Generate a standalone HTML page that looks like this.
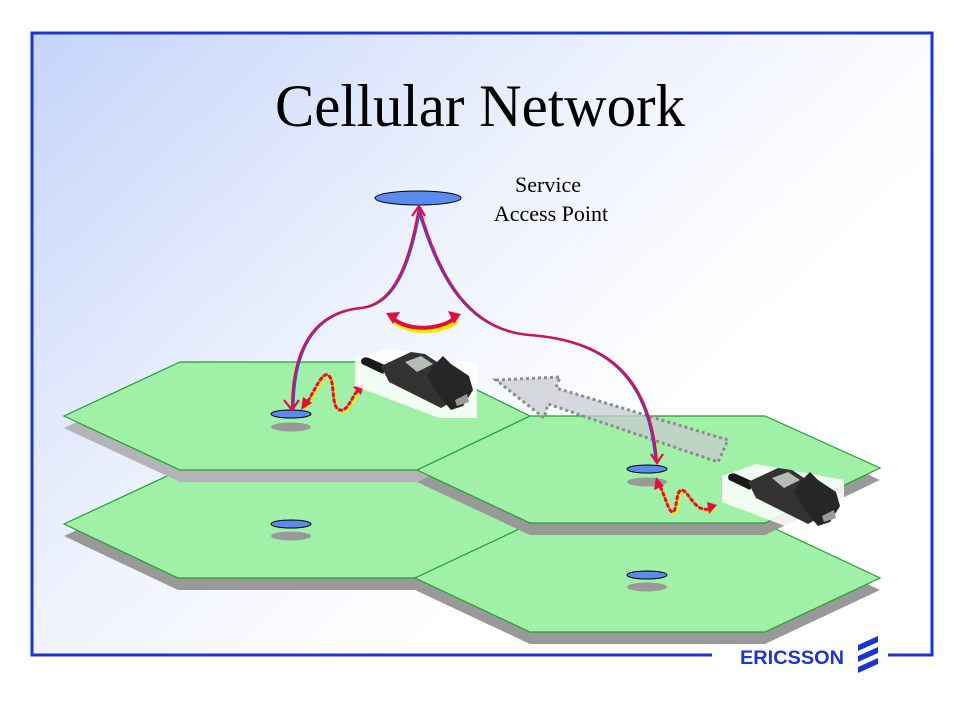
<!DOCTYPE html>
<html><head><meta charset="utf-8"><style>
html,body{margin:0;padding:0;width:960px;height:720px;overflow:hidden;background:#fff}
</style></head><body>
<svg width="960" height="720" viewBox="0 0 960 720" xmlns="http://www.w3.org/2000/svg">
<defs>
<linearGradient id="bg" x1="0" y1="0" x2="0.75" y2="0.55">
<stop offset="0" stop-color="#c4d4fa"/><stop offset="0.6" stop-color="#eef2fd"/><stop offset="1" stop-color="#ffffff"/>
</linearGradient>
<g id="phone">
<polygon points="-4,4 30,-8 118,8 118,62 80,62 -4,30" fill="#fff" opacity="0.85"/>
<path d="M3,8 C0,3 5,0 10,2 L28,10 L24,18 Z" fill="#1a1a1a"/>
<path d="M22,10 L52,-4 L66,-2 L84,10 L100,30 L96,44 L82,52 L30,26 Z" fill="#333"/>
<path d="M46,6 L62,0 L74,8 L58,16 Z" fill="#b4bcb4"/>
<path d="M70,22 L86,12 L92,24 L76,32 Z" fill="#222"/>
<path d="M74,10 L84,0 L92,8 L110,20 L114,34 L104,50 L92,54 L80,40 L68,20 Z" fill="#262626"/>
<path d="M96,44 L108,38 L110,46 L98,50 Z" fill="#9a9a9a"/>
</g>
</defs>
<rect x="32" y="33" width="900" height="622" fill="url(#bg)"/>
<rect x="32" y="33" width="900" height="622" fill="none" stroke="#1c35d0" stroke-width="3"/>
<rect x="712" y="650" width="176" height="10" fill="#fff"/>
<text x="480" y="126" text-anchor="middle" font-family="Liberation Serif, serif" font-size="60" textLength="410" lengthAdjust="spacingAndGlyphs">Cellular Network</text>
<text x="548" y="192" text-anchor="middle" font-family="Liberation Serif, serif" font-size="22">Service</text>
<text x="551" y="221" text-anchor="middle" font-family="Liberation Serif, serif" font-size="22">Access Point</text>

<polygon points="64,536 180,483 420,483 530,536 415,590 178,590" fill="#999"/>
<polygon points="415,590 530,536 765,536 880,590 765,644 530,644" fill="#999"/>
<polygon points="64,524 180,470 420,470 530,524 415,578 178,578" fill="#a0f0a8" stroke="#22a030" stroke-width="1.2"/>
<polygon points="415,578 530,524 765,524 880,578 765,632 530,632" fill="#a0f0a8" stroke="#22a030" stroke-width="1.2"/>
<polygon points="64,428 180,374 420,374 530,428 417,482 180,482" fill="#b4b4b8"/>
<polygon points="417,482 530,428 765,428 880,480 765,535 530,535" fill="#999"/>
<polygon points="417,470 530,416 765,416 880,468 765,523 530,523" fill="#a0f0a8" stroke="#22a030" stroke-width="1.2"/>
<polygon points="64,416 180,362 420,362 530,416 417,470 180,470" fill="#a0f0a8" stroke="#22a030" stroke-width="1.2"/>

<polygon points="496,380 560,377 556,388 728,440 718,462 548,404 544,418" fill="#c8ccd0" fill-opacity="0.75" stroke="#8c8c8c" stroke-width="3" stroke-dasharray="3,3"/>

<ellipse cx="291" cy="427" rx="20" ry="4.5" fill="#999"/>
<ellipse cx="291" cy="414" rx="20" ry="4" fill="#5a8cf0" stroke="#000" stroke-width="1"/>
<ellipse cx="647" cy="482" rx="20" ry="4.5" fill="#999"/>
<ellipse cx="647" cy="469" rx="20" ry="4" fill="#5a8cf0" stroke="#000" stroke-width="1"/>
<ellipse cx="291" cy="536" rx="20" ry="4.5" fill="#999"/>
<ellipse cx="291" cy="524" rx="20" ry="4" fill="#5a8cf0" stroke="#000" stroke-width="1"/>
<ellipse cx="647" cy="587" rx="20" ry="4.5" fill="#999"/>
<ellipse cx="647" cy="575" rx="20" ry="4" fill="#5a8cf0" stroke="#000" stroke-width="1"/>
<ellipse cx="418" cy="198" rx="43" ry="7" fill="#5a8cf0" stroke="#000" stroke-width="1"/>

<g fill="none" stroke-width="2.2">
<path d="M419,207 C410,260 395,305 360,308 C320,312 292,340 292,410" stroke="#3050f0" transform="translate(1.5,0)"/>
<path d="M419,207 C410,260 395,305 360,308 C320,312 292,340 292,410" stroke="#e0103c"/>
<path d="M419,207 C440,280 470,330 530,335 C600,340 650,370 657,462" stroke="#3050f0" transform="translate(-1.5,0)"/>
<path d="M419,207 C440,280 470,330 530,335 C600,340 650,370 657,462" stroke="#e0103c"/>
</g>
<g fill="none" stroke="#e0103c" stroke-width="2.2">
<path d="M284,400 L292,410 L299,400"/><path d="M412,216 L419,206 L425,216"/>
<path d="M651,454 L657,463 L663,454"/>
</g>
<path d="M392,318 C410,332 440,330 455,318" fill="none" stroke="#ffe800" stroke-width="5" transform="translate(2,3)"/>
<path d="M392,318 C410,332 440,330 455,318" fill="none" stroke="#e0103c" stroke-width="4"/>
<polygon points="386,313 400,312 393,324" fill="#e0103c"/>
<polygon points="461,314 448,311 454,324" fill="#e0103c"/>

<g fill="none" stroke-width="3" stroke-dasharray="2.5,3.5" stroke-linecap="round">
<path d="M305,406 C315,390 322,372 328,375 C336,380 330,408 340,410 C348,412 352,395 360,388" stroke="#ffe800" transform="translate(1.5,1.5)"/>
<path d="M305,406 C315,390 322,372 328,375 C336,380 330,408 340,410 C348,412 352,395 360,388" stroke="#e0103c"/>
<path d="M658,482 C665,495 668,510 672,512 C678,512 675,490 682,490 C690,492 695,515 712,508" stroke="#ffe800" transform="translate(1.5,1.5)"/>
<path d="M658,482 C665,495 668,510 672,512 C678,512 675,490 682,490 C690,492 695,515 712,508" stroke="#e0103c"/>
</g>
<polygon points="301,410 303,397 312,403" fill="#e0103c"/>
<polygon points="364,384 353,387 361,395" fill="#e0103c"/>
<polygon points="656,477 654,490 664,486" fill="#e0103c"/>
<polygon points="717,505 707,502 709,514" fill="#e0103c"/>

<use href="#phone" transform="translate(359,356)"/>
<use href="#phone" transform="translate(726,472)"/>

<text x="740" y="664" font-family="Liberation Sans, sans-serif" font-weight="bold" font-size="19" fill="#1c35d0" textLength="104" lengthAdjust="spacingAndGlyphs">ERICSSON</text>
<g fill="#1c35d0">
<path d="M858,645 L878,636 L878,642 L858,651 Z"/>
<path d="M858,656 L878,647 L878,653 L858,662 Z"/>
<path d="M858,667 L878,658 L878,664 L858,673 Z"/>
</g>
</svg>
</body></html>
